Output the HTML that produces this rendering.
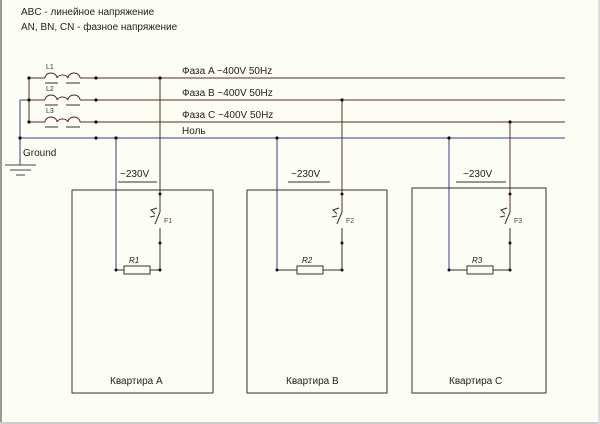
<!DOCTYPE html>
<html><head><meta charset="utf-8"><style>
body{margin:0;background:#fcfdf3;}
svg{display:block;font-family:"Liberation Sans",sans-serif;}
</style></head><body>
<svg width="600" height="424" viewBox="0 0 600 424">
<rect x="0" y="0" width="600" height="424" fill="#fcfdf3"/>
<line x1="1" y1="0" x2="1" y2="424" stroke="#999" stroke-width="2"/>
<line x1="0" y1="423" x2="600" y2="423" stroke="#ccc" stroke-width="2"/>
<line x1="599" y1="0" x2="599" y2="424" stroke="#ddd" stroke-width="2"/>
<text x="21" y="15" font-size="10" fill="#222">ABC - линейное напряжение</text>
<text x="21" y="30" font-size="10" fill="#222">AN, BN, CN - фазное напряжение</text>
<g stroke="#5a2a2a" stroke-width="1" fill="none">
<line x1="29" y1="78" x2="29" y2="122"/>
<line x1="29" y1="78" x2="45" y2="78"/><line x1="80" y1="78" x2="565" y2="78"/>
<line x1="29" y1="100" x2="45" y2="100"/><line x1="80" y1="100" x2="565" y2="100"/>
<line x1="29" y1="122" x2="45" y2="122"/><line x1="80" y1="122" x2="565" y2="122"/>
<path d="M45,78 a6,5 0 0 1 12,0 a6,5 0 0 1 11,0 a6,5 0 0 1 12,0"/>
<path d="M45,100 a6,5 0 0 1 12,0 a6,5 0 0 1 11,0 a6,5 0 0 1 12,0"/>
<path d="M45,122 a6,5 0 0 1 12,0 a6,5 0 0 1 11,0 a6,5 0 0 1 12,0"/>
<line x1="160" y1="78" x2="160" y2="210"/>
<line x1="342" y1="100" x2="342" y2="210"/>
<line x1="510" y1="122" x2="510" y2="210"/>
</g>
<g stroke="#333" stroke-width="1">
<line x1="45" y1="83" x2="58" y2="83"/><line x1="66" y1="83" x2="80" y2="83"/>
<line x1="45" y1="105" x2="58" y2="105"/><line x1="66" y1="105" x2="80" y2="105"/>
<line x1="45" y1="127" x2="58" y2="127"/><line x1="66" y1="127" x2="80" y2="127"/>
</g>
<g font-size="7" fill="#333"><text x="46" y="69">L1</text><text x="46" y="91">L2</text><text x="46" y="113">L3</text></g>
<g stroke="#3a3a9a" stroke-width="1" fill="none">
<line x1="20" y1="138" x2="565" y2="138"/>
<line x1="20" y1="100" x2="29" y2="100"/>
<line x1="20" y1="100" x2="20" y2="165"/>
<line x1="116" y1="138" x2="116" y2="270"/>
<line x1="277" y1="138" x2="277" y2="270"/>
<line x1="449" y1="138" x2="449" y2="270"/>
</g>
<g stroke="#444" stroke-width="1">
<line x1="5" y1="165" x2="36" y2="165"/><line x1="10" y1="170" x2="31" y2="170"/><line x1="16" y1="175" x2="25" y2="175"/>
</g>
<text x="23" y="156" font-size="10" fill="#222">Ground</text>
<g font-size="10" fill="#222">
<text x="182" y="74">Фаза A ~400V 50Hz</text>
<text x="182" y="96">Фаза B ~400V 50Hz</text>
<text x="182" y="118">Фаза C ~400V 50Hz</text>
<text x="182" y="134">Ноль</text>
</g>
<g fill="#111">
<circle cx="29" cy="78" r="1.6"/><circle cx="29" cy="100" r="1.6"/><circle cx="29" cy="122" r="1.6"/>
<circle cx="96" cy="78" r="1.6"/><circle cx="96" cy="100" r="1.6"/><circle cx="96" cy="122" r="1.6"/><circle cx="96" cy="138" r="1.6"/>
<circle cx="20" cy="138" r="1.6"/>
<circle cx="160" cy="78" r="1.6"/><circle cx="342" cy="100" r="1.6"/><circle cx="510" cy="122" r="1.6"/>
<circle cx="116" cy="138" r="1.6"/><circle cx="277" cy="138" r="1.6"/><circle cx="449" cy="138" r="1.6"/>
</g>
<g id="f1">
</g>
<!-- flats -->
<g stroke="#333" fill="none" stroke-width="1">
<rect x="72" y="190" width="141" height="203"/>
<rect x="247" y="190" width="140" height="203"/>
<rect x="412" y="188" width="134" height="205"/>
</g>
<g stroke="#333" stroke-width="1" fill="none">
<line x1="118" y1="182" x2="157" y2="182"/>
<line x1="288" y1="182" x2="330" y2="182"/>
<line x1="456" y1="182" x2="506" y2="182"/>
</g>
<g font-size="10" fill="#222">
<text x="120" y="177">~230V</text><text x="291" y="177">~230V</text><text x="463" y="177">~230V</text>
<text x="110" y="384">Квартира A</text><text x="286" y="384">Квартира B</text><text x="449" y="384">Квартира C</text>
</g>
<!-- switches + resistors -->
<g stroke="#333" stroke-width="1" fill="none">
<line x1="160" y1="210" x2="160" y2="212"/><line x1="160" y1="212" x2="155" y2="224"/><line x1="160" y1="228" x2="160" y2="270"/>
<line x1="342" y1="210" x2="342" y2="212"/><line x1="342" y1="212" x2="337" y2="224"/><line x1="342" y1="228" x2="342" y2="270"/>
<line x1="510" y1="210" x2="510" y2="212"/><line x1="510" y1="212" x2="505" y2="224"/><line x1="510" y1="228" x2="510" y2="270"/>
<path d="M155,214 l-4,-4 l6,-2 M150,217 l5,-1"/>
<path d="M337,214 l-4,-4 l6,-2 M332,217 l5,-1"/>
<path d="M505,214 l-4,-4 l6,-2 M500,217 l5,-1"/>
<line x1="116" y1="270" x2="124" y2="270"/><rect x="124" y="266" width="26" height="8"/><line x1="150" y1="270" x2="160" y2="270"/>
<line x1="277" y1="270" x2="297" y2="270"/><rect x="297" y="266" width="26" height="8"/><line x1="323" y1="270" x2="342" y2="270"/>
<line x1="449" y1="270" x2="467" y2="270"/><rect x="467" y="266" width="26" height="8"/><line x1="493" y1="270" x2="510" y2="270"/>
</g>
<g fill="#111">
<circle cx="160" cy="194" r="1.5"/><circle cx="160" cy="243" r="1.5"/><circle cx="160" cy="270" r="1.5"/><circle cx="116" cy="270" r="1.5"/>
<circle cx="342" cy="194" r="1.5"/><circle cx="342" cy="243" r="1.5"/><circle cx="342" cy="270" r="1.5"/><circle cx="277" cy="270" r="1.5"/>
<circle cx="510" cy="194" r="1.5"/><circle cx="510" cy="243" r="1.5"/><circle cx="510" cy="270" r="1.5"/><circle cx="449" cy="270" r="1.5"/>
</g>
<g font-size="7" fill="#444">
<text x="164" y="223">F1</text><text x="346" y="223">F2</text><text x="514" y="223">F3</text>
</g>
<g font-size="8" font-style="italic" fill="#222">
<text x="129" y="263">R1</text><text x="302" y="263">R2</text><text x="472" y="263">R3</text>
</g>
</svg>
</body></html>
